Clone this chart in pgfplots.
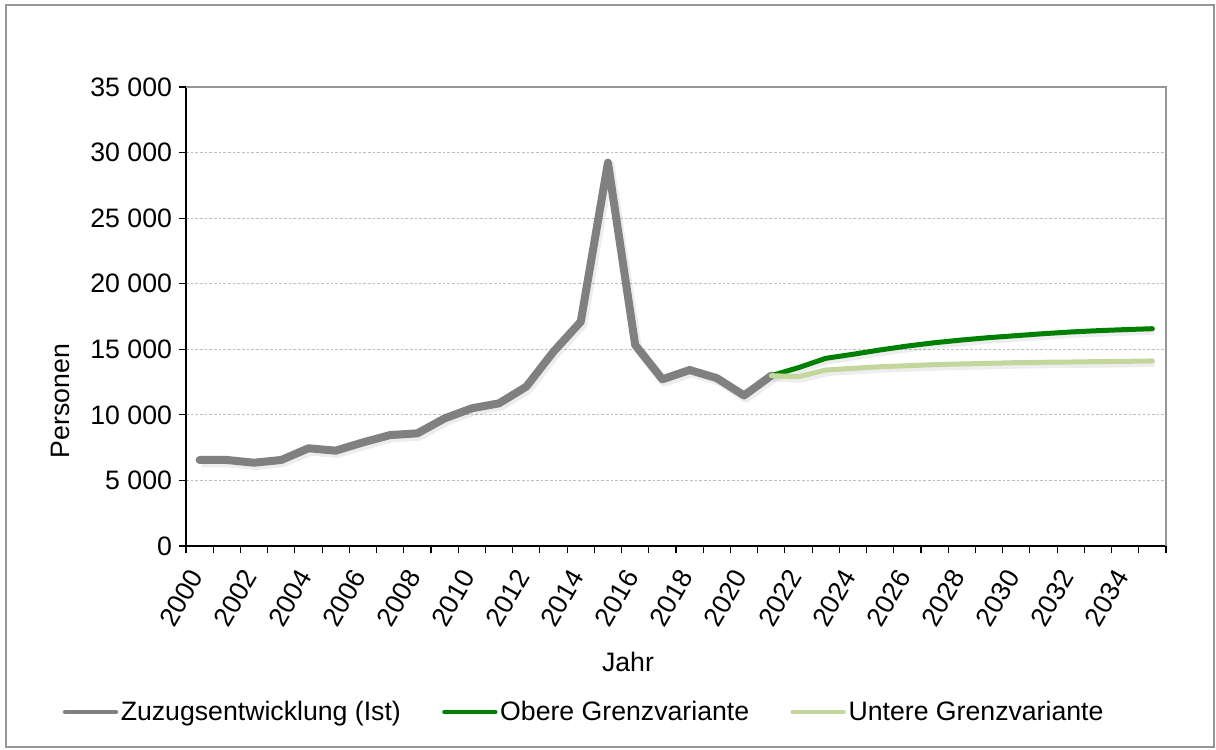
\documentclass[border=0pt]{standalone}
\usepackage{pgfplots}
\pgfplotsset{compat=1.18}
\usepackage{fontspec}
\setmainfont{Liberation Sans}
\definecolor{istgray}{RGB}{128,128,128}
\definecolor{obgreen}{RGB}{0,128,0}
\definecolor{ungreen}{RGB}{195,214,155}
\definecolor{gridgray}{RGB}{190,190,190}
\definecolor{framegray}{RGB}{150,150,150}
\newcommand{\bigfont}{\fontsize{20}{24}\selectfont}
\begin{document}
\begin{tikzpicture}
\path[use as bounding box] (-139.5pt,-152.25pt) rectangle (772.5pt,409.5pt);
\begin{axis}[
  name=ax, at={(0,0)}, anchor=south west,
  scale only axis, width=735pt, height=344.25pt,
  font=\bigfont,
  tick label style={font=\bigfont},
  label style={font=\bigfont},
  xmin=1999.5, xmax=2035.5, ymin=0, ymax=35000,
  axis x line*=bottom, axis y line*=left,
  axis line style={black, line width=1.1pt, -},
  xtick={2000,2002,...,2034},
  major x tick style={draw=none},
  minor xtick={1999.5,2000.5,...,2035.5},
  minor x tick style={black, line width=0.8pt},
  minor tick length=5.5pt,
  ytick={0,5000,...,35000},
  major y tick style={black, line width=0.8pt},
  major tick length=5pt,
  tick align=outside,
  scaled y ticks=false,
  xticklabel style={xshift=-1pt, yshift=-11.5pt, rotate=60, anchor=east},
  yticklabel style={xshift=-2pt},
  yticklabel={\bigfont\pgfmathprintnumber[1000 sep={\ },assume math mode=true,fixed,precision=0]{\tick}},
  xticklabel={\bigfont\pgfmathprintnumber[1000 sep=,assume math mode=true,fixed,precision=0]{\tick}},
  ymajorgrids, y grid style={gridgray, dash pattern=on 2pt off 1.5pt, line width=0.6pt},
  xlabel={Jahr}, ylabel={Personen},
  xlabel style={at={(rel axis cs:0.451,-0.2527)}, anchor=center},
  ylabel style={at={(rel axis cs:-0.1276,0.316)}, anchor=center},
  legend columns=3,
  legend style={draw=none, fill=none, at={(rel axis cs:-0.126,-0.3617)}, anchor=west, inner sep=0pt,
    nodes={inner xsep=2pt, inner ysep=1pt},
    /tikz/every even column/.append style={column sep=29pt},
    font=\bigfont},
  legend image code/.code={\draw[#1, line cap=round, line width=3.5pt] (0pt,0pt) -- (38pt,0pt);},
  clip=false,
]
% shadows
\addplot[forget plot, black, opacity=0.07, line width=7pt, line join=round, xshift=1.5pt, yshift=-2pt] coordinates {
(2000,6560)(2001,6560)(2002,6350)(2003,6560)(2004,7450)(2005,7270)(2006,7900)(2007,8460)(2008,8590)(2009,9730)(2010,10500)(2011,10880)(2012,12150)(2013,14820)(2014,17100)(2015,29230)(2016,15330)(2017,12710)(2018,13420)(2019,12800)(2020,11480)(2021,12990)};
\addplot[forget plot, black, opacity=0.07, line width=5pt, line join=round, xshift=1.5pt, yshift=-2pt] coordinates {
(2021,12990)(2022,13600)(2023,14310)(2024,14620)(2025,14950)(2026,15250)(2027,15500)(2028,15710)(2029,15890)(2030,16040)(2031,16190)(2032,16320)(2033,16420)(2034,16500)(2035,16570)};
\addplot[forget plot, black, opacity=0.07, line width=5pt, line join=round, xshift=1.5pt, yshift=-2pt] coordinates {
(2021,12990)(2022,12910)(2023,13420)(2024,13550)(2025,13670)(2026,13750)(2027,13830)(2028,13880)(2029,13930)(2030,13980)(2031,14010)(2032,14030)(2033,14060)(2034,14080)(2035,14110)};
% series
\addplot[istgray, line width=6pt, line join=round, line cap=round] coordinates {
(2000,6560)(2001,6560)(2002,6350)(2003,6560)(2004,7450)(2005,7270)(2006,7900)(2007,8460)(2008,8590)(2009,9730)(2010,10500)(2011,10880)(2012,12150)(2013,14820)(2014,17100)(2015,29230)(2016,15330)(2017,12710)(2018,13420)(2019,12800)(2020,11480)(2021,12990)};
\addlegendentry{Zuzugsentwicklung (Ist)}
\addplot[obgreen, line width=3.75pt, line join=round, line cap=round] coordinates {
(2021,12990)(2022,13600)(2023,14310)(2024,14620)(2025,14950)(2026,15250)(2027,15500)(2028,15710)(2029,15890)(2030,16040)(2031,16190)(2032,16320)(2033,16420)(2034,16500)(2035,16570)};
\addlegendentry{Obere Grenzvariante}
\addplot[ungreen, line width=3.75pt, line join=round, line cap=round] coordinates {
(2021,12990)(2022,12910)(2023,13420)(2024,13550)(2025,13670)(2026,13750)(2027,13830)(2028,13880)(2029,13930)(2030,13980)(2031,14010)(2032,14030)(2033,14060)(2034,14080)(2035,14110)};
\addlegendentry{Untere Grenzvariante}
\draw[framegray, line width=2pt] (rel axis cs:0,1) -- (rel axis cs:1,1) -- (rel axis cs:1,0);
\end{axis}
\draw[framegray, line width=1.2pt] (-135pt,-150.75pt) rectangle (771pt,405.75pt);
\end{tikzpicture}
\end{document}
